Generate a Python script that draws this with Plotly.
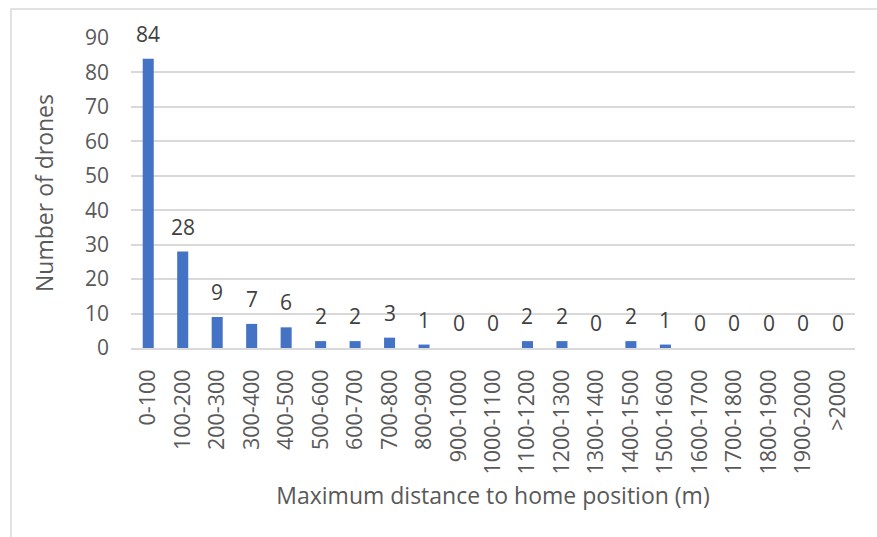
import plotly.graph_objects as go

# Drone counts per maximum distance-to-home bin
categories = ["0-100", "100-200", "200-300", "300-400", "400-500", "500-600",
              "600-700", "700-800", "800-900", "900-1000", "1000-1100",
              "1100-1200", "1200-1300", "1300-1400", "1400-1500", "1500-1600",
              "1600-1700", "1700-1800", "1800-1900", "1900-2000", ">2000"]
drones = [84, 28, 9, 7, 6, 2, 2, 3, 1, 0, 0, 2, 2, 0, 2, 1, 0, 0, 0, 0, 0]
y_ticks = [0, 10, 20, 30, 40, 50, 60, 70, 80, 90]

FONT = "Open Sans"
TEXT = "#595959"
W, H = 877, 537
L, R, T, B = 131, 22, 38, 189

fig = go.Figure()
fig.add_trace(go.Bar(x=categories, y=drones, marker_color="#4472c4",
                     marker_line_width=0, hoverinfo="x+y"))

# value labels above each bar
for c, v in zip(categories, drones):
    fig.add_annotation(x=c, y=v, text=str(v), showarrow=False,
                       yanchor="bottom", yshift=9,
                       font=dict(family=FONT, size=21, color="#404040"))

# light chart-area frame
pw, ph = W - L - R, H - T - B
fig.add_shape(type="rect", xref="paper", yref="paper",
              x0=(11 - L) / pw, x1=(W + 5 - L) / pw,
              y0=(H - B - (H + 5)) / ph, y1=(H - B - 9) / ph,
              line=dict(color="#d9d9d9", width=1.5), layer="below")

fig.update_layout(
    width=W, height=H,
    margin=dict(l=L, r=R, t=T, b=B),
    plot_bgcolor="white", paper_bgcolor="white",
    bargap=0.68, showlegend=False,
    font=dict(family=FONT, color=TEXT, size=21),
    xaxis=dict(type="category", tickangle=-90, ticklabelstandoff=11,
               tickfont=dict(size=21.5, color=TEXT),
               showgrid=False, showline=True, linecolor="#d9d9d9", linewidth=1.5,
               title=dict(text="Maximum distance to home position (m)",
                          font=dict(size=23, color=TEXT), standoff=14)),
    yaxis=dict(range=[0, 90], tickvals=y_ticks, ticklabelstandoff=21,
               tickfont=dict(size=21, color=TEXT),
               showgrid=True, gridcolor="#d9d9d9", gridwidth=1.5,
               zeroline=False, showline=False,
               title=dict(text="Number of drones",
                          font=dict(size=23, color=TEXT), standoff=24)),
)

fig.write_html("out.html")
